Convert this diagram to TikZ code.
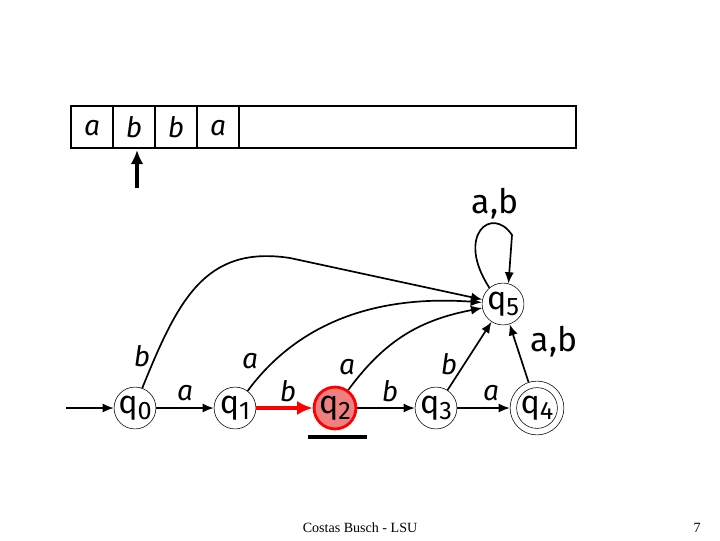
\documentclass[tikz,border=0pt]{standalone}
\usepackage{fontspec}
\setmainfont{Liberation Serif}
\newfontfamily\comicfont{Fira Sans}
\usetikzlibrary{arrows.meta,positioning}
\definecolor{statered}{RGB}{240,128,128}
\tikzset{
  state/.style={circle, draw, thin, fill=white, minimum size=42pt*0.7087, inner sep=0pt, font=\comicfont\fontsize{23}{25}\selectfont},
  current/.style={state, draw=red, line width=2pt, fill=statered},
  trans/.style={-{Latex[length=8pt,width=6.5pt]}, line width=1.2pt},
  edgelabel/.style={font=\comicfont\itshape\fontsize{20}{22}\selectfont},
  biglabel/.style={font=\comicfont\fontsize{24}{26}\selectfont},
  cell/.style={font=\comicfont\itshape\fontsize{20}{22}\selectfont}
}
\newcommand{\qs}[1]{q\raisebox{-0.35ex}{\fontsize{18}{18}\selectfont #1}}
\begin{document}
\begin{tikzpicture}[x=0.025cm, y=-0.025cm]
	\useasboundingbox (0,0) rectangle (720,540);
	% tape
	\draw[thick] (71,106) rectangle (576,148);
	\foreach \x in {113,155,197,239}
		\draw[thick] (\x,106) -- (\x,148);
	\node[cell] (c1) at (92,128) {a};
	\node[cell] (c2) at (134,127) {b};
	\node[cell] (c3) at (176,127) {b};
	\node[cell] (c4) at (218,128) {a};
	\coordinate (head) at (137,188);
	\draw[-{Latex[length=10pt,width=9pt]}, line width=2.2pt] (head) -- (137,150);

	% states
	\node[state] (q0) at (135,408) {\qs{0}};
	\node[state] (q1) at (235,408) {\qs{1}};
	\node[current] (q2) at (335,408) {\qs{2}};
	\node[state] (q3) at (436,408) {\qs{3}};
	\node[state, minimum size=54pt*0.7087] (q4o) at (537,408) {};
	\node[state, minimum size=33pt*0.7087] (q4) at (537,408) {\qs{4}};
	\node[state] (q5) at (503,304) {\qs{5}};
	\coordinate (start) at (66,408);

	\draw[trans] (start) -- (q0);
	\draw[trans] (q0) -- (q1);
	\draw[-{Latex[length=11pt,width=10pt]}, red, line width=2.2pt] (q1) -- (q2);
	\draw[trans] (q2) -- (q3);
	\draw[trans] (q3) -- (q4o);
	\draw[trans] (q3) -- (q5);
	\draw[trans] (q4o) -- (q5);
	\draw[trans] (q0.70) .. controls (178,300) and (205,245) .. (290,258) -- (q5);
	\draw[trans] (q1) .. controls (300,320) and (380,295) .. (q5);
	\draw[trans] (q2) .. controls (385,340) and (420,320) .. (q5);
	\draw[trans] (q5.130) .. controls (455,235) and (492,205) .. (512,235) -- (q5.75);
	\draw[line width=2.4pt] (308,437) -- (367,437);

	% labels
	\node[edgelabel] (l01) at (185,393) {a};
	\node[edgelabel] (l12) at (288,391) {b};
	\node[edgelabel] (l23) at (390,391) {b};
	\node[edgelabel] (l34) at (491,393) {a};
	\node[edgelabel] (l05) at (142,356) {b};
	\node[edgelabel] (l15) at (250,361) {a};
	\node[edgelabel] (l25) at (347,367) {a};
	\node[edgelabel] (l35) at (449,364) {b};
	\node[biglabel] (l45) at (554,342) {a,b};
	\node[biglabel] (l55) at (495,204) {a,b};

	% footer
	\node[font=\fontsize{10}{12}\selectfont] (foot) at (360,528) {Costas Busch - LSU};
	\node[font=\fontsize{10}{12}\selectfont] (page) at (697,528) {7};
\end{tikzpicture}
\end{document}
